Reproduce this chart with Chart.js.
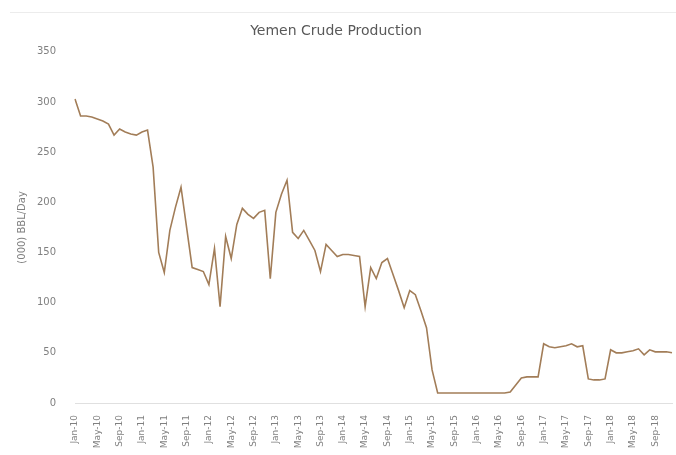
<!DOCTYPE html>
<html>
<head>
<meta charset="utf-8">
<script src="https://cdn.jsdelivr.net/npm/chart.js@4"></script>
<style>
  html, body { margin: 0; padding: 0; background: #ffffff; }
  #wrap { width: 676px; height: 455px; }
</style>
</head>
<body>
<div id="wrap"><canvas id="yemen_crude"></canvas></div>
<script>
// 月份標籤 Jan-10 .. Dec-18
const monthNames = ['Jan', 'Feb', 'Mar', 'Apr', 'May', 'Jun', 'Jul', 'Aug', 'Sep', 'Oct', 'Nov', 'Dec'];
const years = ['10', '11', '12', '13', '14', '15', '16', '17', '18'];

// (000) BBL/Day
const production = [
    303, 286, 286, 285, 283, 281, 278, 267, 273, 270, 268, 267,   // 2010
    270, 272, 235, 150, 130, 172, 195, 215, 175, 135, 133, 131,   // 2011
    118, 154, 96, 166, 144, 178, 194, 188, 184, 190, 192, 124,    // 2012
    190, 208, 222, 170, 164, 172, 162, 152, 131, 158, 152, 146,   // 2013
    148, 148, 147, 146, 96, 135, 124, 140, 144, 128, 112, 95,     // 2014
    112, 108, 92, 75, 33, 10, 10, 10, 10, 10, 10, 10,             // 2015
    10, 10, 10, 10, 10, 10, 11, 18, 25, 26, 26, 26,               // 2016
    59, 56, 55, 56, 57, 59, 56, 57, 24, 23, 23, 24,               // 2017
    53, 50, 50, 51, 52, 54, 48, 53, 51, 51, 51, 50                // 2018
];

const yTicks = [0, 50, 100, 150, 200, 250, 300, 350];

let labels = [];
years.forEach(function (y) {
    monthNames.forEach(function (m) {
        labels.push(m + '-' + y);
    });
});

// faint frame line at the top of the picture
const topLine = {
    id: 'topLine',
    beforeDraw(chart) {
        const ctx = chart.ctx;
        ctx.save();
        ctx.strokeStyle = '#ececec';
        ctx.lineWidth = 1;
        ctx.beginPath();
        ctx.moveTo(10, 12.5);
        ctx.lineTo(676, 12.5);
        ctx.stroke();
        ctx.restore();
    }
};

let data = {
    labels: labels,
    datasets: [{
        label: 'Yemen Crude Production',
        data: production,
        borderColor: '#a27d58',
        borderWidth: 1.6,
        pointRadius: 0,
        tension: 0,
        fill: false
    }]
};

let config = {
    type: 'line',
    data: data,
    options: {
        responsive: true,
        maintainAspectRatio: false,
        animation: false,
        layout: { padding: { left: 0, right: 4, top: 0, bottom: 0 } },
        plugins: {
            legend: { display: false },
            tooltip: { enabled: false },
            title: {
                display: true,
                text: 'Yemen Crude Production',
                color: '#595959',
                font: { family: 'DejaVu Sans', size: 14, weight: 'normal' },
                padding: { top: 23, bottom: 12 }
            }
        },
        scales: {
            x: {
                grid: { display: false },
                border: { display: true, color: '#e0e0e0' },
                ticks: {
                    autoSkip: false,
                    minRotation: 90,
                    maxRotation: 90,
                    color: '#808080',
                    padding: 4,
                    font: { family: 'DejaVu Sans', size: 9 },
                    callback: function (value, index) {
                        return index % 4 === 0 ? labels[index] : null;
                    }
                },
                afterFit: function (scale) { scale.height = 52; }
            },
            y: {
                min: 0,
                max: 350,
                afterBuildTicks: function (scale) {
                    scale.ticks = yTicks.map(function (v) { return { value: v }; });
                },
                grid: { display: false },
                border: { display: false },
                ticks: {
                    color: '#808080',
                    padding: 11,
                    font: { family: 'DejaVu Sans', size: 10 }
                },
                title: {
                    display: true,
                    text: '(000) BBL/Day',
                    color: '#808080',
                    font: { family: 'DejaVu Sans', size: 10 },
                    padding: { top: 16, bottom: 0 }
                },
                afterFit: function (scale) { scale.width = 75; }
            }
        }
    },
    plugins: [topLine]
};

let yemen_chart = new Chart(document.getElementById('yemen_crude'), config);
</script>
</body>
</html>
